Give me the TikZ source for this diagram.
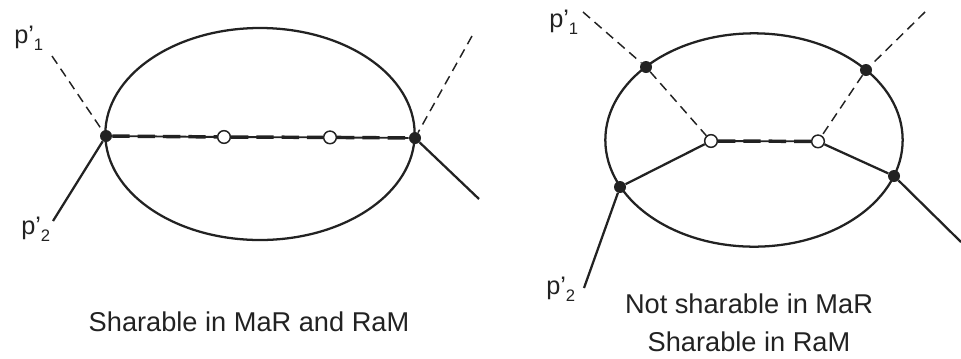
\documentclass[tikz,border=0pt]{standalone}
\usepackage{fontspec}
\setmainfont{Liberation Sans}
\usetikzlibrary{positioning,shapes.geometric}
\definecolor{SketchInk}{HTML}{222222}
\newcommand{\plabel}[1]{\fontsize{19}{22}\selectfont p'\raisebox{-0.55ex}{\fontsize{12.5}{14}\selectfont #1}}
\tikzset{
  loopline/.style={draw=SketchInk,line width=1.7pt,ellipse,inner sep=0pt},
  solidleg/.style={draw=SketchInk,line width=1.7pt},
  dashleg/.style={draw=SketchInk,line width=1.1pt,dash pattern=on 7pt off 4.5pt},
  midsolid/.style={draw=SketchInk,line width=1.4pt},
  middash/.style={draw=SketchInk,line width=2.6pt,dash pattern=on 13pt off 6pt},
  blackdot/.style={circle,fill=SketchInk,inner sep=0pt,minimum size=9pt},
  opendot/.style={circle,draw=SketchInk,fill=white,line width=1.1pt,inner sep=0pt,minimum size=9.5pt},
  plab/.style={text=SketchInk,inner sep=0pt},
  caption/.style={text=SketchInk,inner sep=0pt,align=center,font=\fontsize{20.4}{28.5}\selectfont}
}
\begin{document}
\begin{tikzpicture}[x=0.75pt,y=-0.75pt]
  \useasboundingbox (0,0) rectangle (961,358);
  % left
  \node[loopline,minimum width=232pt,minimum height=159pt] (loopA) at (260,134) {};
  \node[blackdot] (a1) at (106,136) {};
  \node[blackdot] (a2) at (415,138) {};
  \node[opendot] (a3) at (224,137) {};
  \node[opendot] (a4) at (330,137.4) {};
  \coordinate (a5) at (52,56);
  \coordinate (a6) at (472,36);
  \coordinate (a7) at (53,221);
  \coordinate (a8) at (479,199);
  \draw[dashleg] (a5) -- (a1);
  \draw[dashleg] (a6) -- (a2);
  \draw[solidleg] (a1) -- (a7);
  \draw[solidleg] (a2) -- (a8);
  \draw[midsolid] (a1) -- (a3);
  \draw[midsolid] (a3) -- (a4);
  \draw[midsolid] (a4) -- (a2);
  \draw[middash] (a1) -- (a3);
  \draw[middash] (a3) -- (a4);
  \draw[middash] (a4) -- (a2);
  \node[plab,anchor=west] (labA1) at (14,38) {\plabel{1}};
  \node[plab,anchor=west] (labA2) at (21,229) {\plabel{2}};
  \node[caption] (capA) at (249,322) {Sharable in MaR and RaM};
  % right
  \node[loopline,minimum width=223pt,minimum height=160pt] (loopB) at (754,140) {};
  \node[blackdot] (b1) at (646,67) {};
  \node[blackdot] (b2) at (866,70) {};
  \node[blackdot] (b3) at (620,187) {};
  \node[blackdot] (b4) at (894,176) {};
  \node[opendot] (b5) at (711,141) {};
  \node[opendot] (b6) at (818,141.4) {};
  \coordinate (b7) at (583,12);
  \coordinate (b8) at (925,12);
  \coordinate (b9) at (584,288);
  \coordinate (b10) at (961,242);
  \draw[dashleg] (b7) -- (b1);
  \draw[dashleg] (b1) -- (b5);
  \draw[dashleg] (b8) -- (b2);
  \draw[dashleg] (b2) -- (b6);
  \draw[solidleg] (b3) -- (b5);
  \draw[solidleg] (b6) -- (b4);
  \draw[solidleg] (b3) -- (b9);
  \draw[solidleg] (b4) -- (b10);
  \draw[midsolid] (b5) -- (b6);
  \draw[middash] (b5) -- (b6);
  \node[plab,anchor=west] (labB1) at (549,22) {\plabel{1}};
  \node[plab,anchor=west] (labB2) at (546,289) {\plabel{2}};
  \node[caption] (capB) at (749,323) {Not sharable in MaR\\Sharable in RaM};
\end{tikzpicture}
\end{document}
